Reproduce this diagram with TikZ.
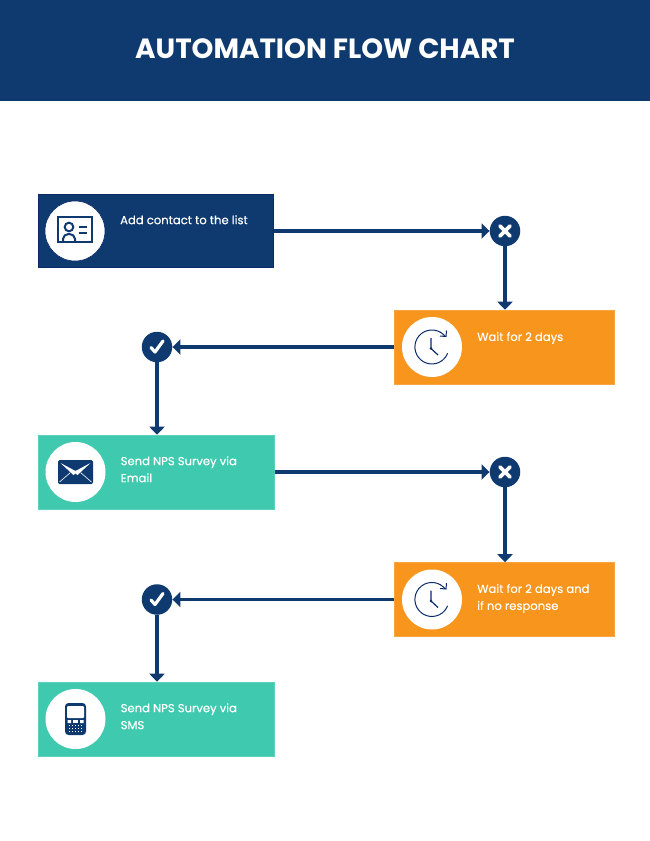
\documentclass[tikz,border=0pt]{standalone}
\usepackage{fontspec}
\setmainfont{Poppins}
\newfontfamily\lblfont[FakeBold=0.35]{Poppins}
\usetikzlibrary{arrows.meta}
\definecolor{navy}{HTML}{0F3A70}
\definecolor{navyedge}{HTML}{0A2A6A}
\definecolor{amber}{HTML}{F7951D}
\definecolor{teal2}{HTML}{3FCAB0}
\tikzset{
  x=1pt,y=-1pt,
  navybox/.style={draw=navyedge,line width=1pt,fill=navy,minimum width=235.5pt,minimum height=73.5pt,inner sep=0pt},
  orangebox/.style={fill=amber,draw=amber!85!white,line width=.6pt,minimum width=220.5pt,minimum height=74pt,inner sep=0pt},
  tealbox/.style={fill=teal2,draw=teal2!85!white,line width=.6pt,minimum width=235.5pt,minimum height=74pt,inner sep=0pt},
  disc/.style={circle,fill=white,minimum size=60pt,inner sep=0pt},
  gate/.style={circle,fill=navy,minimum size=30.5pt,inner sep=0pt},
  lbl/.style={anchor=west,align=left,text=white,font=\lblfont\fontsize{11.6}{17}\selectfont,inner sep=0pt},
  flow/.style={draw=navy,line width=3.1pt,-{Triangle[length=8pt,width=15pt,fill=navy]}},
  icon/.style={draw=navy,line width=2pt,fill=none},
  clockline/.style={draw=navyedge,line width=1pt}
}
\begin{document}
\begin{tikzpicture}
\useasboundingbox (0,0) rectangle (650,841);
\fill[white] (0,0) rectangle (650,841);
\node[fill=navy,minimum width=650pt,minimum height=101pt,inner sep=0pt,anchor=north west] (header) at (0,0) {};
\node[text=white,font=\fontsize{27.8}{32}\selectfont\bfseries,inner sep=0pt] (title) at (325,48.8) {AUTOMATION FLOW CHART};

% boxes
\node[navybox] (add) at (156,231) {};
\node[orangebox] (wait1) at (504.5,347) {};
\node[tealbox] (mail) at (156.5,472) {};
\node[orangebox] (wait2) at (504.5,599.5) {};
\node[tealbox] (sms) at (156.5,719) {};

% discs
\node[disc,draw=navyedge,line width=.6pt] (d1) at (75,231) {};
\node[disc] (d2) at (432,347) {};
\node[disc] (d3) at (75.5,472) {};
\node[disc] (d4) at (432,599.5) {};
\node[disc] (d5) at (75.5,719) {};

% labels
\node[lbl] (t1) at (120,219.8) {Add contact to the list};
\node[lbl] (t2) at (477,338) {Wait for 2 days};
\node[lbl] (t3) at (120.5,469.3) {Send NPS Survey via\\Email};
\node[lbl] (t4) at (477,598.5) {Wait for 2 days and\\if no response};
\node[lbl] (t5) at (120.5,716.3) {Send NPS Survey via\\SMS};

% gates
\node[gate] (x1) at (505,231) {};
\node[gate] (c1) at (157,347) {};
\node[gate] (x2) at (505,472) {};
\node[gate] (c2) at (157,599.5) {};

\foreach \g in {x1,x2}{
  \draw[white,line width=3.6pt,line cap=round] ([shift={(-5,-5)}]\g.center) -- ([shift={(5,5)}]\g.center);
  \draw[white,line width=3.6pt,line cap=round] ([shift={(-5,5)}]\g.center) -- ([shift={(5,-5)}]\g.center);
}
\foreach \g in {c1,c2}{
  \draw[white,line width=3.2pt,line cap=round,line join=round] ([shift={(-6,0.5)}]\g.center) -- ([shift={(-2,5)}]\g.center) -- ([shift={(6,-6)}]\g.center);
}

% connectors
\draw[flow] (add.east |- x1.west) -- (x1.west);
\draw[flow] (x1.south) -- (x1.south |- wait1.north);
\draw[flow] (wait1.west) -- (c1.east);
\draw[flow] (c1.south) -- (c1.south |- mail.north);
\draw[flow] (mail.east) -- (x2.west);
\draw[flow] (x2.south) -- (x2.south |- wait2.north);
\draw[flow] (wait2.west) -- (c2.east);
\draw[flow] (c2.south) -- (c2.south |- sms.north);

% contact card icon
\begin{scope}[shift={(75,231)}]
  \draw[icon] (-17,-14) rectangle (17,11);
  \draw[icon] (-6,-4) circle (4.3);
  \draw[icon,rounded corners=2pt] (-12,10) -- (-12,6) -- (-8.5,3) -- (-3.5,3) -- (0,6) -- (0,10);
  \draw[icon] (4,-4) -- (12,-4) (4,2) -- (12,2);
\end{scope}

% clock icons
\foreach \d in {d2,d4}{
\begin{scope}[shift={(\d.center)}]
  \draw[clockline] (13.3,-10.5) arc (-38:-338:17);
  \draw[clockline] (8,-11) -- (14,-10.5) -- (14.5,-16.5);
  \draw[clockline,line width=1.2pt] (-1,-9) -- (-1,1.5) -- (6,8);
  \fill[navyedge] (-1,1.5) circle (1.4);
\end{scope}}

% envelope icon
\begin{scope}[shift={(75.5,472)}]
  \fill[navy,rounded corners=1.5pt] (-17.5,-12) rectangle (17.5,12);
  \fill[white] (-15,-9) -- (-2,3) -- (0,1.5) -- (2,3) -- (15,-9) -- (0,-1) -- cycle;
  \draw[white,line width=.6pt] (-16,10) -- (-5,0.5) (16,10) -- (5,0.5);
\end{scope}

% phone icon
\begin{scope}[shift={(75.5,719)}]
  \fill[navy,rounded corners=3.5pt] (-10.5,-16) rectangle (10.5,16);
  \fill[white,rounded corners=1pt] (-8.5,-13) rectangle (8.5,-1);
  \fill[white] (-2.5,1) rectangle (2.5,4);
  \fill[white] (-8,1) rectangle (-4.5,4) (4.5,1) rectangle (8,4);
  \foreach \px in {-6,-3,0,3,6}{
    \foreach \py in {6.5,9.5,12.5}{
      \fill[white] (\px-.9,\py-.9) rectangle (\px+.9,\py+.9);
    }
  }
\end{scope}
\end{tikzpicture}
\end{document}
